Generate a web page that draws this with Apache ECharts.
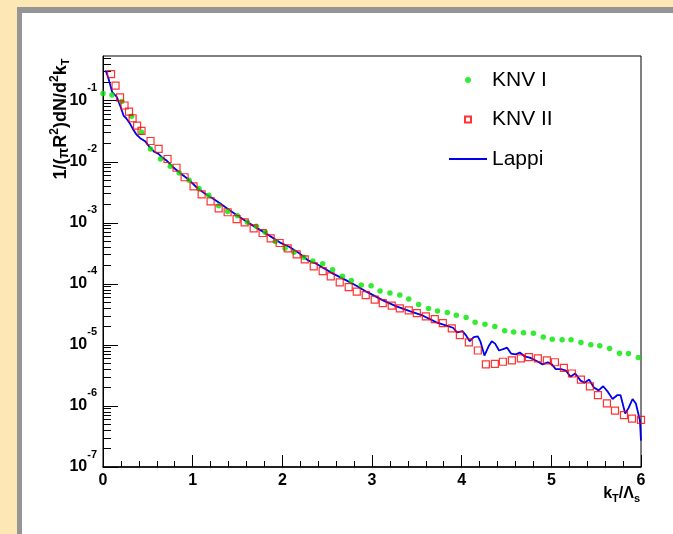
<!DOCTYPE html>
<html style="height: 100%">
<head>
<meta charset="utf-8">
<script type="text/javascript" src="https://cdn.jsdelivr.net/npm/echarts@6.0.0/dist/echarts.min.js"></script>
</head>
<body style="height: 100%; margin: 0">
<div id="container" style="width: 673px; height: 534px"></div>
<script type="text/javascript">
// KNV I (green dots)
var knv1X = [0.00,0.10,0.21,0.32,0.43,0.53,0.64,0.75,0.85,0.96,1.07,1.18,1.29,1.39,1.50,1.61,1.71,1.81,1.92,2.03,
	2.13,2.24,2.34,2.45,2.56,2.67,2.77,2.88,2.99,3.09,3.20,3.31,3.41,3.52,3.63,3.73,3.84,3.94,4.05,4.15,
	4.26,4.37,4.48,4.58,4.69,4.80,4.91,5.01,5.12,5.22,5.33,5.44,5.54,5.65,5.76,5.86,5.97];
var knv1Y = [0.131,0.124,0.097,0.0557,0.0305,0.0162,0.0111,0.00843,0.00655,0.00497,0.00364,0.00282,0.00191,0.00153,0.00131,0.00102,0.000877,0.000698,0.000492,0.000382,
	0.000328,0.000272,0.000237,0.000214,0.000171,0.000133,0.000114,9.55e-5,9.33e-5,7.62e-5,7.06e-5,6.55e-5,5.64e-5,4.61e-5,3.96e-5,3.58e-5,3.41e-5,3.05e-5,2.82e-5,2.34e-5,
	2.17e-5,2.01e-5,1.70e-5,1.63e-5,1.58e-5,1.55e-5,1.35e-5,1.24e-5,1.22e-5,1.22e-5,1.10e-5,1.01e-5,9.7e-6,8.7e-6,7.3e-6,7.2e-6,6.2e-6];

// KNV II (red open squares)
var knv2X = [0.09,0.14,0.19,0.24,0.29,0.33,0.38,0.43,0.53,0.62,0.72,0.82,0.91,1.01,1.10,1.20,1.29,1.39,1.49,1.58,
	1.68,1.78,1.87,1.97,2.06,2.16,2.25,2.35,2.45,2.54,2.64,2.74,2.83,2.93,3.03,3.12,3.22,3.31,3.41,3.50,
	3.60,3.70,3.79,3.89,3.98,4.08,4.18,4.27,4.37,4.46,4.56,4.66,4.75,4.85,4.95,5.04,5.14,5.23,5.33,5.43,
	5.52,5.62,5.71,5.81,5.90,6.00];
var knv2Y = [0.272,0.177,0.113,0.0834,0.0665,0.0516,0.0392,0.0320,0.0219,0.0162,0.0111,0.00798,0.00557,0.00396,0.00293,0.00225,0.00173,0.00149,0.00115,0.00102,
	0.000813,0.000681,0.000557,0.000467,0.000382,0.000305,0.000252,0.000194,0.000162,0.000133,0.000106,8.87e-5,7.45e-5,6.55e-5,5.51e-5,4.84e-5,4.39e-5,3.97e-5,3.68e-5,3.32e-5,
	2.93e-5,2.65e-5,2.28e-5,1.86e-5,1.45e-5,1.10e-5,8.1e-6,4.8e-6,4.9e-6,5.3e-6,5.6e-6,6.0e-6,6.3e-6,6.0e-6,5.6e-6,5.2e-6,4.2e-6,3.4e-6,2.7e-6,2.1e-6,
	1.5e-6,1.1e-6,8.4e-7,7.1e-7,6.2e-7,5.9e-7];

// Lappi (blue line)
var lappiX = [0.028,0.058,0.080,0.103,0.125,0.154,0.176,0.199,0.229,0.259,0.296,0.333,0.371,0.415,0.474,0.519,0.569,0.616,0.653,0.705,
	0.779,0.859,0.965,1.040,1.136,1.225,1.300,1.412,1.523,1.672,1.821,1.970,2.081,2.193,2.286,2.379,2.565,2.714,2.826,2.938,
	3.123,3.272,3.421,3.569,3.719,3.830,3.904,3.949,4.009,4.046,4.090,4.135,4.180,4.210,4.254,4.299,4.336,4.373,4.417,4.462,
	4.507,4.551,4.604,4.648,4.701,4.760,4.842,4.902,4.961,5.006,5.050,5.109,5.162,5.214,5.266,5.326,5.371,5.422,5.474,5.527,
	5.578,5.631,5.683,5.734,5.772,5.824,5.862,5.906,5.943,5.988,6.000];
var lappiY = [0.316,0.240,0.182,0.138,0.128,0.115,0.0944,0.0774,0.0571,0.0516,0.0433,0.0345,0.0282,0.0243,0.0214,0.0175,0.0146,0.0136,0.0120,0.0106,
	0.00822,0.00655,0.00497,0.00386,0.00301,0.00250,0.00211,0.00160,0.00124,0.000899,0.000665,0.000479,0.000401,0.000313,0.000243,0.000214,0.000147,0.000114,9.33e-5,7.45e-5,
	5.37e-5,4.28e-5,3.58e-5,3.01e-5,2.34e-5,2.07e-5,1.91e-5,1.60e-5,1.68e-5,1.45e-5,1.15e-5,1.34e-5,1.38e-5,1.13e-5,6.7e-6,9.4e-6,1.15e-5,1.05e-5,8.1e-6,8.5e-6,
	9.0e-6,7.2e-6,7.0e-6,7.5e-6,6.5e-6,6.2e-6,5.4e-6,4.8e-6,5.2e-6,4.8e-6,4.0e-6,4.0e-6,3.8e-6,3.0e-6,3.4e-6,2.6e-6,2.4e-6,2.7e-6,2.0e-6,1.8e-6,
	2.1e-6,1.7e-6,1.3e-6,1.5e-6,1.5e-6,7.5e-7,9.3e-7,1.3e-6,1.1e-6,5.8e-7,2.7e-7];

var xTickLabels = ['0','1','2','3','4','5','6'];
var yMin = 1e-7, yMax = 0.54;
var font = 'Liberation Sans';

function zip(xs, ys) {
	var out = [];
	for (var i = 0; i < Math.min(xs.length, ys.length); i++) out.push([xs[i], ys[i]]);
	return out;
}

// minor ticks 2..9 of every decade, in log10 units
var minorLog = [];
for (var e = -7; e <= -1; e++) {
	for (var m = 2; m <= 9; m++) {
		var v = e + Math.log10(m);
		if (v < Math.log10(yMax)) minorLog.push(v);
	}
}

var myChart = echarts.init(document.getElementById('container'));
var option = {
	animation: false,
	backgroundColor: '#fde7b4',
	graphic: [
		{type: 'rect', z: -10, shape: {x: 17, y: 7, width: 700, height: 560}, style: {fill: '#959595'}},
		{type: 'rect', z: -9, shape: {x: 22, y: 13, width: 700, height: 560}, style: {fill: '#ffffff'}},
		{type: 'text', x: 61, y: 119, rotation: Math.PI / 2, style: {
			text: '{a|1/(}{p|π}{a|R}{s|2}{a|)dN/d}{s|2}{a|k}{t|T}',
			align: 'center', verticalAlign: 'middle',
			rich: {
				a: {fontFamily: font, fontWeight: 'bold', fontSize: 18, fill: '#000'},
				p: {fontFamily: font, fontWeight: 'bold', fontSize: 14, fill: '#000', padding: [6, 0, 0, 0]},
				s: {fontFamily: font, fontWeight: 'bold', fontSize: 12, fill: '#000', padding: [0, 0, 12, 0]},
				t: {fontFamily: font, fontWeight: 'bold', fontSize: 11, fill: '#000', padding: [9, 0, 0, 0]}
			}
		}},
		{type: 'text', x: 640, y: 494, style: {
			text: '{a|k}{t|T}{a|/Λ}{t|s}',
			align: 'right', verticalAlign: 'middle',
			rich: {
				a: {fontFamily: font, fontWeight: 'bold', fontSize: 16, fill: '#000'},
				t: {fontFamily: font, fontWeight: 'bold', fontSize: 11, fill: '#000', padding: [9, 0, 0, 0]}
			}
		}}
	],
	grid: {left: 103, right: 32, top: 56, bottom: 67, show: true, borderColor: '#000', borderWidth: 1},
	legend: {
		orient: 'vertical', left: 444, top: 63,
		itemWidth: 38, itemHeight: 6, itemGap: 15.5,
		textStyle: {fontFamily: font, fontSize: 21, color: '#000', lineHeight: 24},
		data: [
			{name: 'KNV I', icon: 'circle'},
			{name: 'KNV II', icon: 'path://M0,0H10V10H0Z'},
			{name: 'Lappi', icon: 'path://M0,0H38V1.8H0Z'}
		]
	},
	xAxis: {
		type: 'value', min: 0, max: 6, interval: 1,
		axisLine: {show: true, lineStyle: {color: '#000', width: 1.5}},
		axisTick: {show: true, inside: true, length: 12, lineStyle: {color: '#000'}},
		minorTick: {show: true, splitNumber: 5, length: 6, lineStyle: {color: '#000'}},
		splitLine: {show: false},
		axisLabel: {
			margin: 6, color: '#000', fontFamily: font, fontWeight: 'bold', fontSize: 16,
			formatter: function (v) { return xTickLabels[Math.round(v)]; }
		}
	},
	yAxis: [{
		type: 'log', logBase: 10, min: yMin, max: yMax, interval: 1,
		axisLine: {show: true, lineStyle: {color: '#000', width: 1}},
		axisTick: {show: true, inside: true, length: 15, lineStyle: {color: '#000'}},
		splitLine: {show: false},
		axisLabel: {
			margin: 6, color: '#000', showMaxLabel: false,
			formatter: function (v) {
				var ex = Math.log10(v), r = Math.round(ex);
				if (Math.abs(ex - r) > 1e-6) return '';
				return '{b|10}{s|' + r + '}';
			},
			rich: {
				b: {fontFamily: font, fontWeight: 'bold', fontSize: 16, color: '#000'},
				s: {fontFamily: font, fontWeight: 'bold', fontSize: 11, color: '#000', padding: [0, 0, 25, 0]}
			}
		}
	}, {
		type: 'value', min: -7, max: Math.log10(yMax), position: 'left',
		axisLine: {show: false},
		axisLabel: {show: false},
		splitLine: {show: false},
		axisTick: {show: true, inside: true, length: 8, customValues: minorLog, lineStyle: {color: '#000'}}
	}],
	series: [{
		name: 'KNV I', type: 'scatter', symbol: 'circle', symbolSize: 5.5,
		itemStyle: {color: '#00e600'},
		data: zip(knv1X, knv1Y), z: 3
	}, {
		name: 'KNV II', type: 'scatter', symbol: 'rect', symbolSize: 7,
		itemStyle: {color: 'rgba(255,255,255,0)', borderColor: '#ff0000', borderWidth: 1.2},
		data: zip(knv2X, knv2Y), z: 4
	}, {
		name: 'Lappi', type: 'line', symbol: 'none',
		lineStyle: {color: '#0000ee', width: 1.8},
		itemStyle: {color: '#0000ee'},
		data: zip(lappiX, lappiY), z: 2
	}]
};
myChart.setOption(option);
</script>
</body>
</html>
